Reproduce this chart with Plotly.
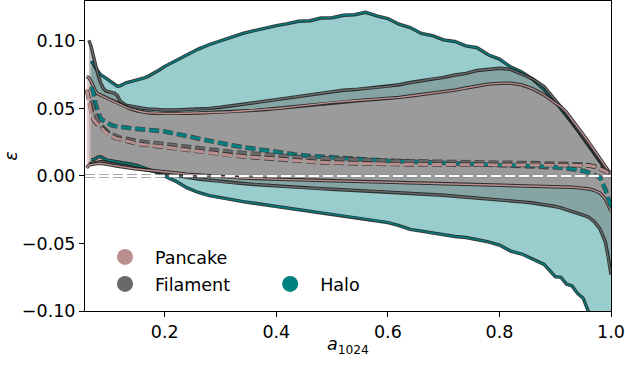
import plotly.graph_objects as go

# Scale factor grid shared by all curves
a_grid = [0.060, 0.064, 0.068, 0.072, 0.076, 0.080, 0.085, 0.090, 0.095, 0.100, 0.105,
          0.110, 0.115, 0.120, 0.130, 0.140, 0.150, 0.160, 0.170, 0.180, 0.190, 0.200,
          0.22, 0.24, 0.26, 0.28, 0.30, 0.32, 0.34, 0.36, 0.38, 0.40,
          0.42, 0.44, 0.46, 0.48, 0.50, 0.52, 0.54, 0.56, 0.58, 0.60,
          0.62, 0.64, 0.66, 0.68, 0.70, 0.72, 0.74, 0.76, 0.78, 0.80,
          0.82, 0.84, 0.86, 0.88, 0.90,
          0.91, 0.92, 0.93, 0.94, 0.95, 0.96, 0.97, 0.98, 0.99, 0.995, 1.000]

# Pancake: upper / lower envelope and median of epsilon
pancake_hi = [0.0736, 0.0728, 0.0700, 0.0660, 0.0625, 0.0608, 0.0598, 0.0590, 0.0582, 0.0570, 0.0560,
              0.0550, 0.0540, 0.0530, 0.0510, 0.0495, 0.0483, 0.0474, 0.0468, 0.0465, 0.0464, 0.0463,
              0.0463, 0.0464, 0.0466, 0.0469, 0.0472, 0.0476, 0.0481, 0.0486, 0.0492, 0.0500,
              0.0508, 0.0518, 0.0528, 0.0537, 0.0545, 0.0552, 0.0558, 0.0563, 0.0568, 0.0573,
              0.0582, 0.0592, 0.0602, 0.0612, 0.0622, 0.0636, 0.0652, 0.0668, 0.0680, 0.0686,
              0.0688, 0.0675, 0.0645, 0.0600, 0.0545,
              0.0512, 0.0472, 0.0420, 0.0364, 0.0307, 0.0250, 0.0192, 0.0135, 0.0077, 0.0044, 0.0012]
pancake_lo = [0.0060, 0.0080, 0.0084, 0.0088, 0.0090, 0.0093, 0.0094, 0.0092, 0.0088, 0.0084, 0.0080,
              0.0076, 0.0072, 0.0068, 0.0062, 0.0057, 0.0052, 0.0047, 0.0042, 0.0038, 0.0034, 0.0030,
              0.0022, 0.0014, 0.0007, 0.0000, -0.0006, -0.0011, -0.0015, -0.0019, -0.0022, -0.0025,
              -0.0027, -0.0029, -0.0031, -0.0033, -0.0035, -0.0037, -0.0039, -0.0041, -0.0043, -0.0045,
              -0.0047, -0.0049, -0.0051, -0.0053, -0.0055, -0.0057, -0.0059, -0.0061, -0.0063, -0.0065,
              -0.0067, -0.0069, -0.0071, -0.0073, -0.0076,
              -0.0078, -0.0080, -0.0083, -0.0086, -0.0090, -0.0096, -0.0106, -0.0125, -0.0170, -0.0220, -0.0260]
pancake_med = [0.0640, 0.0560, 0.0470, 0.0420, 0.0395, 0.0380, 0.0362, 0.0340, 0.0320, 0.0305, 0.0293,
               0.0284, 0.0277, 0.0271, 0.0262, 0.0250, 0.0240, 0.0233, 0.0227, 0.0222, 0.0218, 0.0214,
               0.0203, 0.0192, 0.0181, 0.0170, 0.0160, 0.0152, 0.0145, 0.0138, 0.0131, 0.0125,
               0.0118, 0.0110, 0.0105, 0.0101, 0.0098, 0.0095, 0.0093, 0.0091, 0.0089, 0.0088,
               0.0087, 0.0086, 0.0085, 0.0084, 0.0083, 0.0082, 0.0082, 0.0081, 0.0081, 0.0081,
               0.0081, 0.0081, 0.0081, 0.0081, 0.0081,
               0.0081, 0.0081, 0.0081, 0.0081, 0.0080, 0.0078, 0.0070, 0.0055, 0.0035, 0.0018, 0.0005]

# Filament
filament_hi = [None, 0.1005, 0.0960, 0.0890, 0.0815, 0.0755, 0.0690, 0.0648, 0.0628, 0.0622, 0.0618,
               0.0613, 0.0595, 0.0555, 0.0524, 0.0515, 0.0509, 0.0502, 0.0497, 0.0493, 0.0490, 0.0489,
               0.0489, 0.0491, 0.0495, 0.0501, 0.0509, 0.0519, 0.0530, 0.0542, 0.0554, 0.0566,
               0.0578, 0.0592, 0.0604, 0.0617, 0.0624, 0.0635, 0.0640, 0.0650, 0.0655, 0.0664,
               0.0676, 0.0692, 0.0704, 0.0720, 0.0730, 0.0748, 0.0760, 0.0781, 0.0788, 0.0798,
               0.0790, 0.0752, 0.0718, 0.0662, 0.0566,
               0.0513, 0.0460, 0.0406, 0.0350, 0.0293, 0.0235, 0.0176, 0.0118, 0.0060, 0.0030, 0.0000]
filament_lo = [None, 0.0090, 0.0094, 0.0096, 0.0100, 0.0104, 0.0106, 0.0106, 0.0100, 0.0096, 0.0092,
               0.0088, 0.0084, 0.0080, 0.0073, 0.0066, 0.0058, 0.0050, 0.0042, 0.0035, 0.0027, 0.0020,
               0.0005, -0.0010, -0.0022, -0.0032, -0.0041, -0.0049, -0.0056, -0.0063, -0.0069, -0.0075,
               -0.0080, -0.0085, -0.0090, -0.0094, -0.0098, -0.0102, -0.0106, -0.0110, -0.0114, -0.0118,
               -0.0122, -0.0127, -0.0132, -0.0138, -0.0143, -0.0150, -0.0156, -0.0163, -0.0168, -0.0175,
               -0.0184, -0.0192, -0.0200, -0.0210, -0.0226,
               -0.0236, -0.0248, -0.0262, -0.0276, -0.0290, -0.0305, -0.0338, -0.0390, -0.0490, -0.0600, -0.0730]
filament_med = [None, None, 0.0560, 0.0500, 0.0450, 0.0410, 0.0375, 0.0352, 0.0335, 0.0320, 0.0308,
                0.0298, 0.0290, 0.0283, 0.0273, 0.0265, 0.0259, 0.0254, 0.0249, 0.0244, 0.0238, 0.0232,
                0.0221, 0.0211, 0.0201, 0.0192, 0.0184, 0.0177, 0.0170, 0.0163, 0.0156, 0.0150,
                0.0145, 0.0140, 0.0135, 0.0131, 0.0127, 0.0123, 0.0120, 0.0117, 0.0114, 0.0112,
                0.0110, 0.0108, 0.0106, 0.0105, 0.0103, 0.0102, 0.0101, 0.0100, 0.0099, 0.0098,
                0.0097, 0.0096, 0.0095, 0.0094, 0.0093,
                0.0092, 0.0091, 0.0090, 0.0088, 0.0085, 0.0080, 0.0072, 0.0060, 0.0040, 0.0025, 0.0015]

# Halo
halo_hi = [None, None, 0.0850, 0.0830, 0.0800, 0.0775, 0.0750, 0.0738, 0.0722, 0.0705, 0.0690,
           0.0675, 0.0665, 0.0668, 0.0690, 0.0700, 0.0708, 0.0722, 0.0738, 0.0760, 0.0785, 0.0812,
           0.0855, 0.0898, 0.0940, 0.0974, 0.1002, 0.1030, 0.1056, 0.1076, 0.1096, 0.1114,
           0.1128, 0.1146, 0.1150, 0.1170, 0.1172, 0.1190, 0.1194, 0.1212, 0.1186, 0.1166,
           0.1124, 0.1099, 0.1056, 0.1040, 0.1008, 0.0996, 0.0964, 0.0950, 0.0898, 0.0866,
           0.0808, 0.0770, 0.0715, 0.0640, 0.0550,
           0.0500, 0.0448, 0.0393, 0.0338, 0.0282, 0.0225, 0.0168, 0.0110, 0.0052, 0.0020, -0.0010]
halo_lo = [None, None, 0.0120, 0.0120, 0.0130, 0.0140, 0.0143, 0.0128, 0.0120, 0.0115, 0.0112,
           0.0108, 0.0104, 0.0100, 0.0095, 0.0088, 0.0078, 0.0065, 0.0050, 0.0035, 0.0018, 0.0000,
           -0.0040, -0.0088, -0.0122, -0.0145, -0.0162, -0.0176, -0.0190, -0.0202, -0.0214, -0.0226,
           -0.0237, -0.0247, -0.0260, -0.0270, -0.0282, -0.0293, -0.0305, -0.0318, -0.0332, -0.0345,
           -0.0368, -0.0395, -0.0408, -0.0422, -0.0433, -0.0448, -0.0456, -0.0472, -0.0488, -0.0512,
           -0.0556, -0.0578, -0.0620, -0.0655, -0.0745,
           -0.0750, -0.0800, -0.0815, -0.0870, -0.0905, -0.1010, -0.1090, -0.1200, -0.1350, -0.1450, -0.1550]
halo_med = [None, None, 0.0660, 0.0620, 0.0530, 0.0470, 0.0425, 0.0410, 0.0395, 0.0383, 0.0375,
            0.0370, 0.0366, 0.0363, 0.0358, 0.0353, 0.0349, 0.0345, 0.0341, 0.0338, 0.0334, 0.0330,
            0.0312, 0.0295, 0.0275, 0.0256, 0.0241, 0.0227, 0.0214, 0.0201, 0.0188, 0.0175,
            0.0165, 0.0156, 0.0148, 0.0142, 0.0136, 0.0130, 0.0125, 0.0120, 0.0116, 0.0113,
            0.0110, 0.0107, 0.0104, 0.0102, 0.0100, 0.0098, 0.0096, 0.0093, 0.0090, 0.0087,
            0.0083, 0.0080, 0.0076, 0.0071, 0.0066,
            0.0062, 0.0058, 0.0053, 0.0047, 0.0038, 0.0025, 0.0008, -0.0010, -0.0100, -0.0170, -0.0230]

classes = [
    ("Halo", "rgb(0,128,128)", "rgba(0,128,128,0.4)", halo_hi, halo_lo, halo_med),
    ("Filament", "rgb(105,105,105)", "rgba(105,105,105,0.4)", filament_hi, filament_lo, filament_med),
    ("Pancake", "rgb(188,143,143)", "rgba(188,143,143,0.4)", pancake_hi, pancake_lo, pancake_med),
]

FONT = "DejaVu Sans"
OUTLINE = "rgba(25,25,25,0.85)"
DASH = "10px,4px"


def valid(vals):
    pts = [(a, v) for a, v in zip(a_grid, vals) if v is not None]
    return [p[0] for p in pts], [p[1] for p in pts]


fig = go.Figure()

# Filled envelopes
for name, col, fill, hi, lo, med in classes:
    xh, yh = valid(hi)
    xl, yl = valid(lo)
    fig.add_trace(go.Scatter(
        x=xh + xl[::-1], y=yh + yl[::-1], mode="lines", fill="toself",
        fillcolor=fill, line=dict(width=0), hoverinfo="skip", showlegend=False))

# Envelope edges: dark stroke under a thinner coloured line
for name, col, fill, hi, lo, med in classes:
    for vals in (hi, lo):
        xs, ys = valid(vals)
        fig.add_trace(go.Scatter(x=xs, y=ys, mode="lines",
                                 line=dict(color=OUTLINE, width=3.4),
                                 hoverinfo="skip", showlegend=False))
        fig.add_trace(go.Scatter(x=xs, y=ys, mode="lines",
                                 line=dict(color=col, width=1.4),
                                 hoverinfo="skip", showlegend=False))

# Zero reference line: white dashes with a grey edge
fig.add_hline(y=0, line=dict(color="rgb(140,140,140)", width=3.6, dash=DASH), layer="above")
fig.add_hline(y=0, line=dict(color="white", width=1.8, dash=DASH), layer="above")

# Medians (dashed)
for name, col, fill, hi, lo, med in classes:
    xs, ys = valid(med)
    fig.add_trace(go.Scatter(x=xs, y=ys, mode="lines",
                             line=dict(color="rgba(35,35,35,0.7)", width=4.6, dash=DASH),
                             hoverinfo="skip", showlegend=False))
    fig.add_trace(go.Scatter(x=xs, y=ys, mode="lines",
                             line=dict(color=col, width=3.0, dash=DASH),
                             hoverinfo="skip", showlegend=False))

# Legend entries
legend_font = dict(family=FONT, size=17.5, color="black")
for name, col, lg in [("Pancake", "rgb(188,143,143)", "legend"),
                      ("Filament", "rgb(105,105,105)", "legend2"),
                      ("Halo", "rgb(0,128,128)", "legend3")]:
    fig.add_trace(go.Scatter(x=[None], y=[None], mode="markers", name=name,
                             marker=dict(color=col, size=16), legend=lg))

leg_common = dict(xanchor="left", yanchor="middle", bgcolor="rgba(0,0,0,0)",
                  borderwidth=0, font=legend_font, itemwidth=50)

fig.update_layout(
    width=625, height=366,
    margin=dict(l=85, r=14, t=1, b=55),
    paper_bgcolor="white", plot_bgcolor="white",
    font=dict(family=FONT, size=17.5, color="black"),
    legend=dict(x=0.019, y=0.174, **leg_common),
    legend2=dict(x=0.019, y=0.087, **leg_common),
    legend3=dict(x=0.333, y=0.087, **leg_common),
    xaxis=dict(range=[0.057, 1.0], tickvals=[0.2, 0.4, 0.6, 0.8, 1.0], tickformat=".1f",
               showgrid=False, zeroline=False, showline=True, mirror=True,
               linecolor="black", linewidth=1, ticks="outside", ticklen=5,
               tickwidth=1, tickcolor="black", tickfont=dict(family=FONT, size=17.5)),
    yaxis=dict(range=[-0.1, 0.1296], tickvals=[-0.10, -0.05, 0.0, 0.05, 0.10], tickformat=".2f",
               showgrid=False, zeroline=False, showline=True, mirror=True,
               linecolor="black", linewidth=1, ticks="outside", ticklen=5,
               tickwidth=1, tickcolor="black", tickfont=dict(family=FONT, size=17.5)),
    annotations=[
        dict(text="<i>a</i><sub>1024</sub>", xref="paper", yref="paper", x=0.5, y=-0.11,
             xanchor="center", yanchor="middle", showarrow=False,
             font=dict(family=FONT, size=17.5, color="black")),
        dict(text="<i>ε</i>", xref="paper", yref="paper", x=-0.141, y=0.5,
             xanchor="center", yanchor="middle", textangle=-90, showarrow=False,
             font=dict(family=FONT, size=17.5, color="black")),
    ],
)

fig.write_html("out.html")
